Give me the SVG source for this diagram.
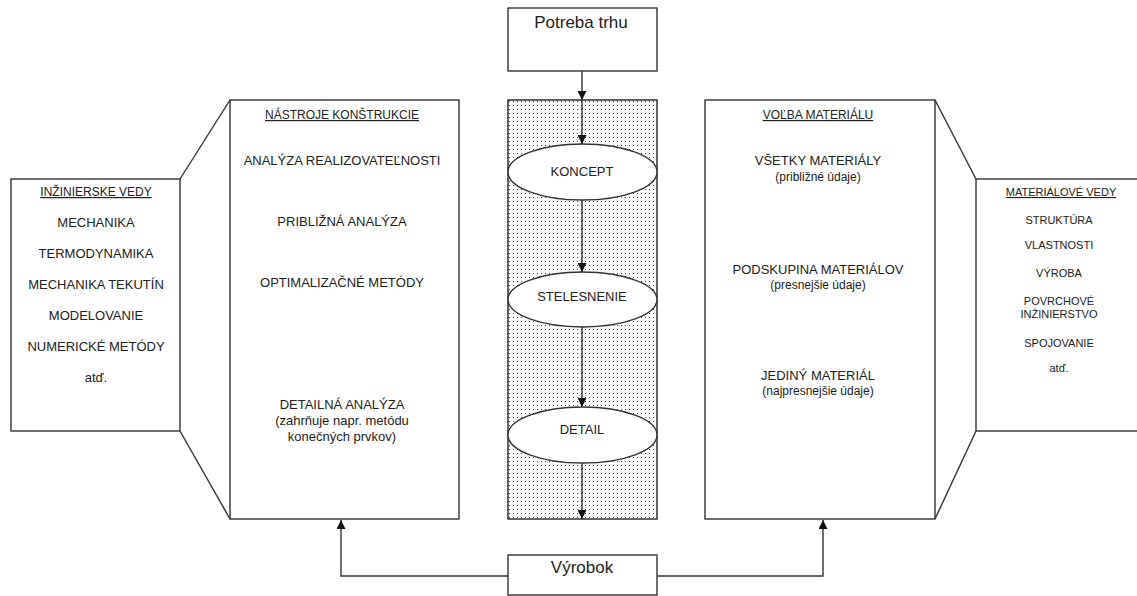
<svg xmlns="http://www.w3.org/2000/svg" width="1137" height="596" viewBox="0 0 1137 596">
<style>
.box{fill:#fff;stroke:#333;stroke-width:1.4}
.ln{fill:none;stroke:#333;stroke-width:1.4}
.t{font-family:"Liberation Sans",Arial,sans-serif;fill:#222;text-anchor:middle}
.s13{font-size:13px}
.s12{font-size:12px}
.s11{font-size:11px}
.u{text-decoration:underline}
.ell{fill:#fff;stroke:#333;stroke-width:1.4}
</style>
<defs>
<pattern id="dots" width="4" height="4" patternUnits="userSpaceOnUse">
<rect x="1" y="1" width="1" height="1" fill="#444"/>
</pattern>
<marker id="ah" viewBox="0 0 10 10" refX="10" refY="5" markerWidth="9" markerHeight="9" markerUnits="userSpaceOnUse" orient="auto">
<path d="M0,0 L10,5 L0,10 z" fill="#111"/>
</marker>
</defs>

<rect width="1137" height="596" fill="#fff"/>

<g id="inzinierske-vedy">
<rect class="box" x="11" y="179" width="169" height="252"/>
<text class="t s12 u" x="96" y="196">INŽINIERSKE VEDY</text>
<text class="t s13" x="96" y="227">MECHANIKA</text>
<text class="t s13" x="96" y="258">TERMODYNAMIKA</text>
<text class="t s13" x="96" y="289">MECHANIKA TEKUTÍN</text>
<text class="t s13" x="96" y="320">MODELOVANIE</text>
<text class="t s13" x="96" y="351">NUMERICKÉ METÓDY</text>
<text class="t s13" x="96" y="382">atď.</text>
</g>

<g id="nastroje-konstrukcie">
<rect class="box" x="230" y="100" width="229" height="419"/>
<text class="t s12 u" x="342" y="119">NÁSTROJE KONŠTRUKCIE</text>
<text class="t s13" x="342" y="165">ANALÝZA REALIZOVATEĽNOSTI</text>
<text class="t s13" x="342" y="226">PRIBLIŽNÁ ANALÝZA</text>
<text class="t s13" x="342" y="287">OPTIMALIZAČNÉ METÓDY</text>
<text class="t s13" x="342" y="409">DETAILNÁ ANALÝZA</text>
<text class="t s13" x="342" y="425">(zahrňuje napr. metódu</text>
<text class="t s13" x="342" y="441">konečných prvkov)</text>
</g>

<g id="proces">
<rect x="508" y="100" width="149" height="419" fill="url(#dots)" stroke="#222" stroke-width="1.4"/>
</g>

<g id="potreba-trhu">
<rect class="box" x="508" y="8" width="149" height="63"/>
<text class="t" x="581" y="28" font-size="17">Potreba trhu</text>
</g>

<g id="volba-materialu">
<rect class="box" x="705" y="100" width="230" height="419"/>
<text class="t s12 u" x="818" y="119">VOĽBA MATERIÁLU</text>
<text class="t s13" x="818" y="165">VŠETKY MATERIÁLY</text>
<text class="t s12" x="818" y="181">(približné údaje)</text>
<text class="t s13" x="818" y="274">PODSKUPINA MATERIÁLOV</text>
<text class="t s12" x="818" y="289">(presnejšie údaje)</text>
<text class="t s13" x="818" y="380">JEDINÝ MATERIÁL</text>
<text class="t s12" x="818" y="395">(najpresnejšie údaje)</text>
</g>

<g id="materialove-vedy">
<rect class="box" x="976" y="179" width="170" height="252"/>
<text class="t s11 u" x="1061" y="196">MATERIÁLOVÉ VEDY</text>
<text class="t s11" x="1059" y="224">STRUKTÚRA</text>
<text class="t s11" x="1059" y="249">VLASTNOSTI</text>
<text class="t s11" x="1059" y="277">VÝROBA</text>
<text class="t s11" x="1059" y="305">POVRCHOVÉ</text>
<text class="t s11" x="1059" y="318">INŽINIERSTVO</text>
<text class="t s11" x="1059" y="347">SPOJOVANIE</text>
<text class="t s11" x="1059" y="372">atď.</text>
</g>

<g id="connectors">
<line class="ln" x1="180" y1="179" x2="230" y2="100"/>
<line class="ln" x1="180" y1="431" x2="230" y2="519"/>
<line class="ln" x1="935" y1="100" x2="976" y2="179"/>
<line class="ln" x1="935" y1="519" x2="976" y2="431"/>
<line class="ln" x1="582" y1="71" x2="582" y2="100" marker-end="url(#ah)"/>
<line class="ln" x1="582" y1="100" x2="582" y2="144" marker-end="url(#ah)"/>
<line class="ln" x1="582" y1="200" x2="582" y2="272" marker-end="url(#ah)"/>
<line class="ln" x1="582" y1="327" x2="582" y2="407" marker-end="url(#ah)"/>
<line class="ln" x1="582" y1="463" x2="582" y2="519" marker-end="url(#ah)"/>
<polyline class="ln" points="508,576 341,576 341,520" marker-end="url(#ah)"/>
<polyline class="ln" points="657,576 823,576 823,520" marker-end="url(#ah)"/>
</g>

<g id="koncept">
<ellipse class="ell" cx="582.5" cy="172" rx="74.5" ry="28"/>
<text class="t s13" x="582" y="176">KONCEPT</text>
</g>
<g id="stelesnenie">
<ellipse class="ell" cx="582.5" cy="299.5" rx="74.5" ry="27.5"/>
<text class="t s13" x="582" y="301">STELESNENIE</text>
</g>
<g id="detail">
<ellipse class="ell" cx="582.5" cy="435" rx="74.5" ry="28"/>
<text class="t s13" x="582" y="434">DETAIL</text>
</g>

<g id="vyrobok">
<rect class="box" x="508" y="555" width="149" height="40"/>
<text class="t" x="582" y="573" font-size="17">Výrobok</text>
</g>
</svg>
